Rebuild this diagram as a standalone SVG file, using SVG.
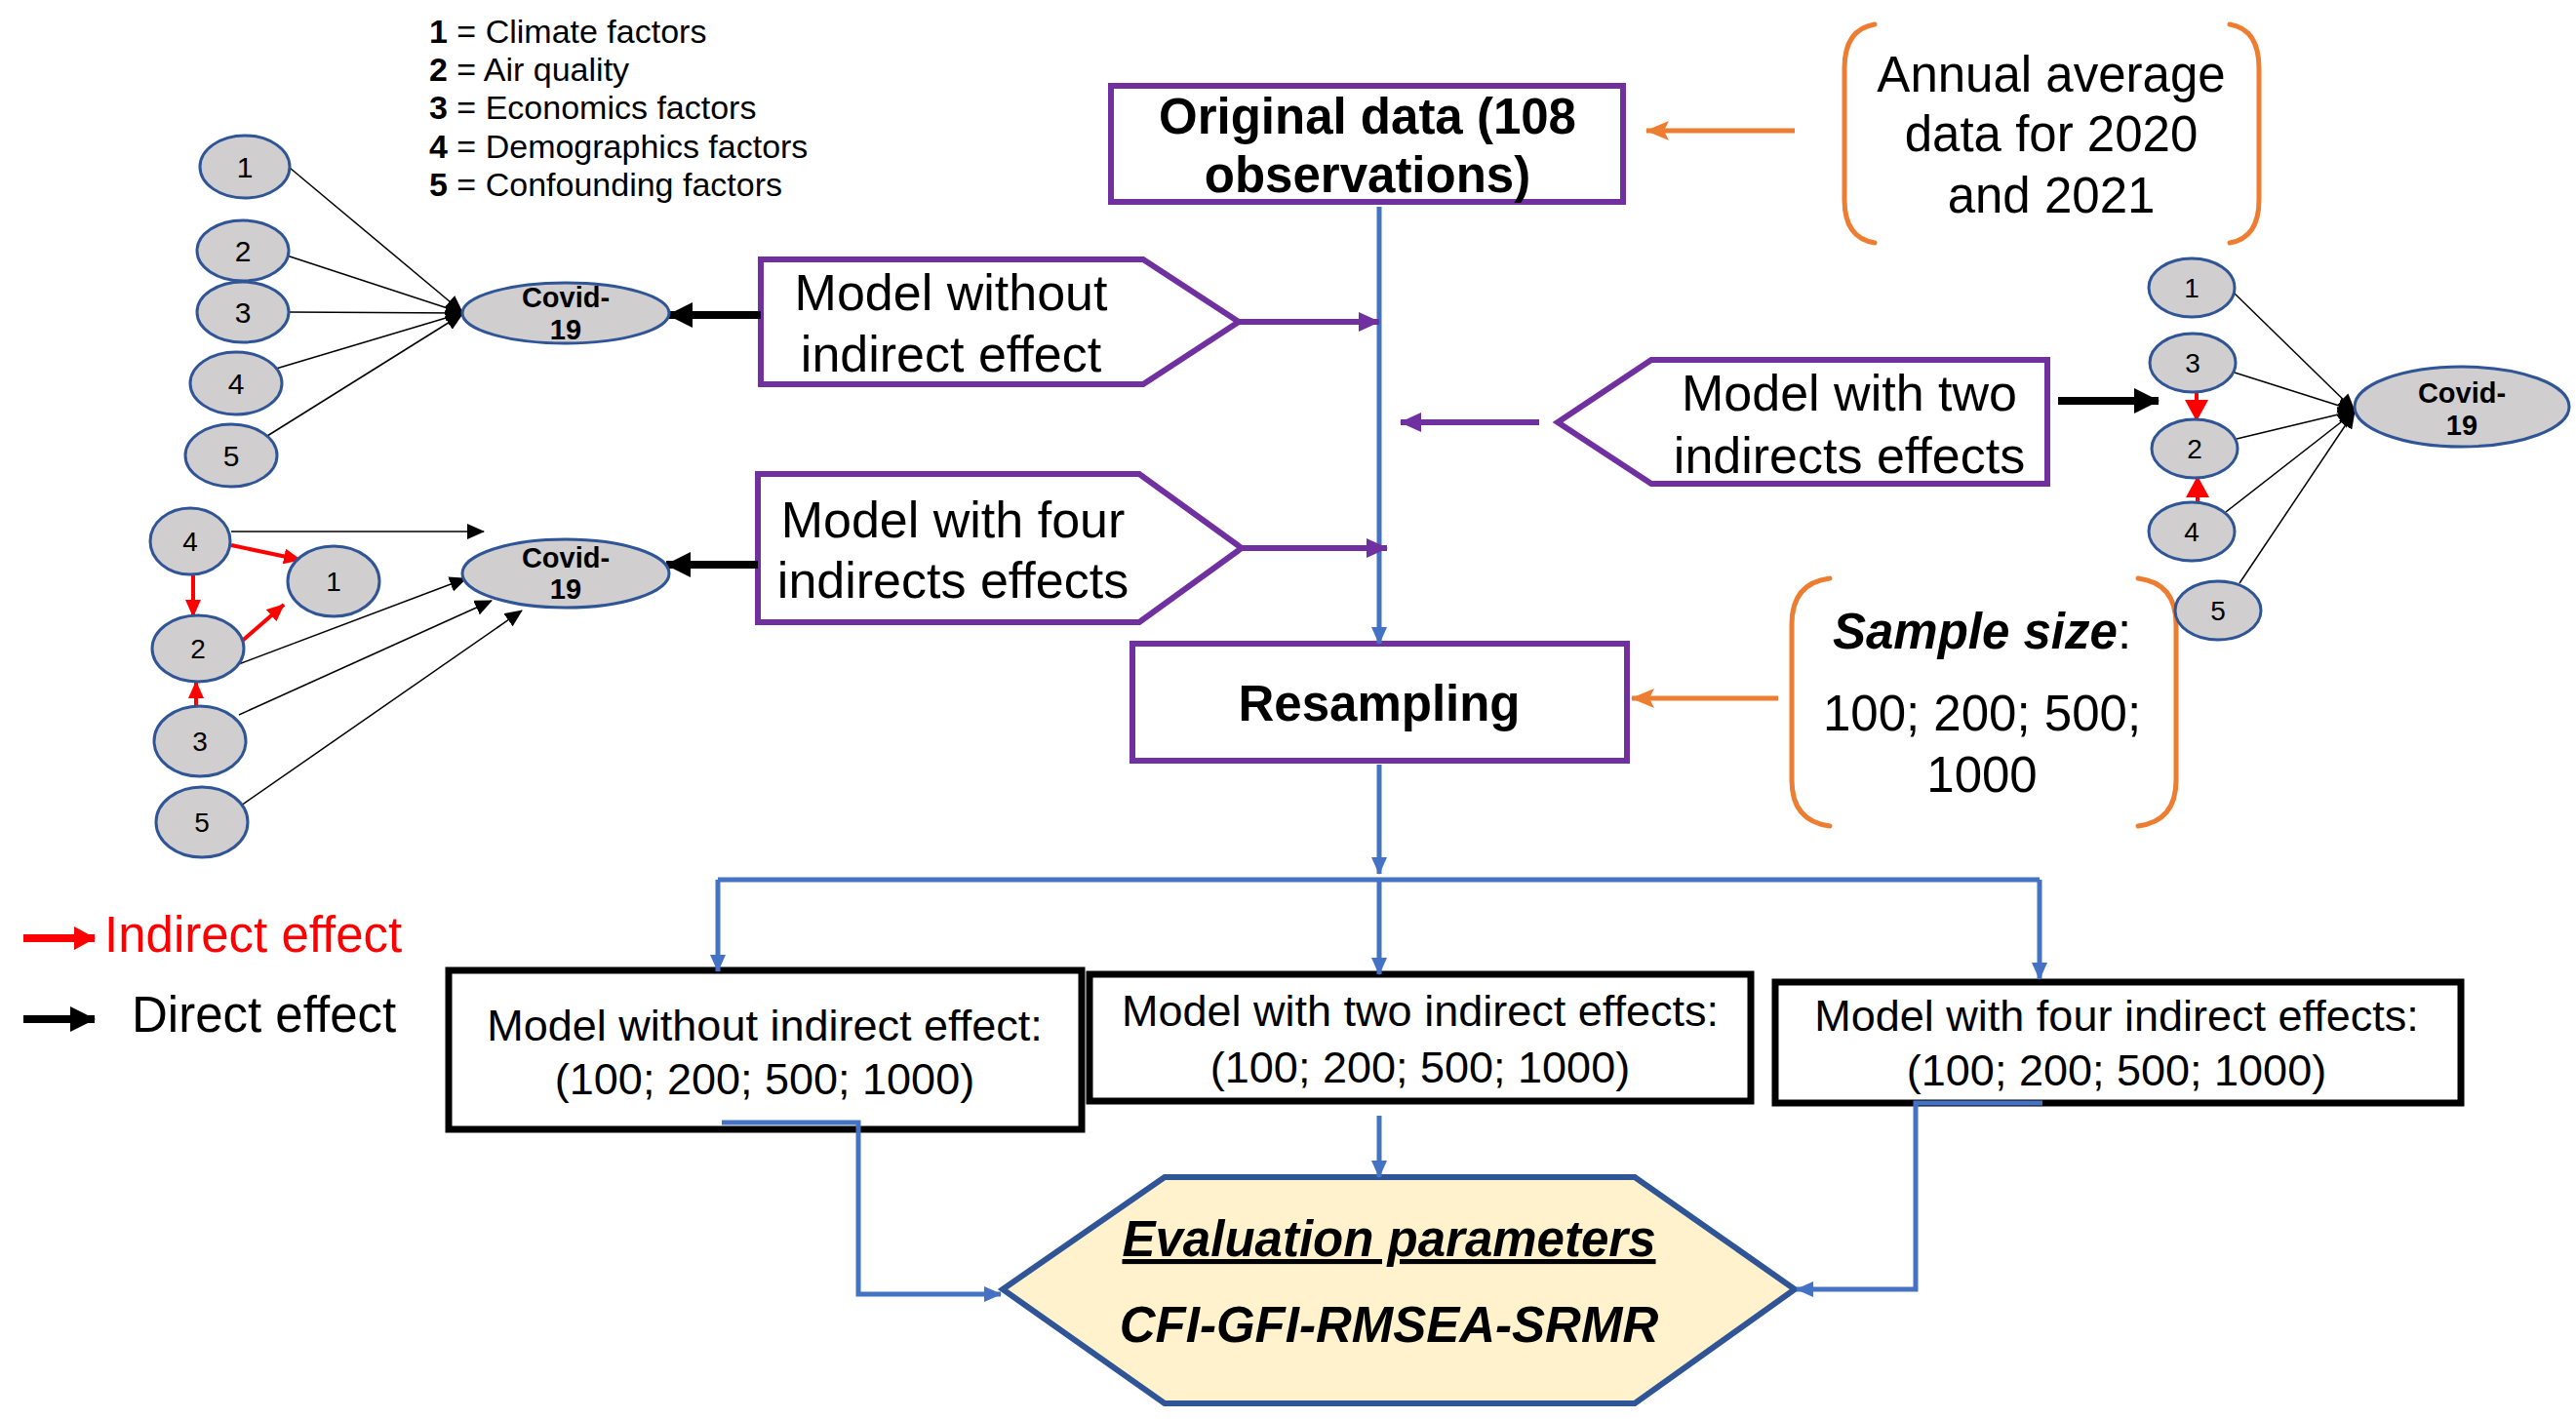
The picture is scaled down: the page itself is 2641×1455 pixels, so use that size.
<svg xmlns="http://www.w3.org/2000/svg" width="2641" height="1455" viewBox="0 0 2641 1455">
<style>
text{font-family:"Liberation Sans",Arial,sans-serif;fill:#000}
.t50{font-size:51px}
.p52{font-size:52px}
.b50{font-size:51px;font-weight:bold}
.leg{font-size:34px}
.num{font-size:30px}
.num2{font-size:28px}
.cov{font-size:29px;font-weight:bold}
.box43{font-size:45px}
.node{fill:#D0CECE;stroke:#2F5597;stroke-width:3}
.pur{fill:#fff;stroke:#7030A0;stroke-width:6}
.blk{fill:#fff;stroke:#000;stroke-width:7}
.brk{fill:none;stroke:#ED7D31;stroke-width:5;stroke-linecap:round}
.thin{stroke:#000;stroke-width:1.5;fill:none}
.red{stroke:#FF0000;stroke-width:4;fill:none}
.blue{stroke:#4472C4;stroke-width:5;fill:none}
.purl{stroke:#7030A0;stroke-width:6;fill:none}
.orl{stroke:#ED7D31;stroke-width:5;fill:none}
.thick{stroke:#000;stroke-width:8;fill:none}
</style>
<defs>
<marker id="mb" markerUnits="userSpaceOnUse" markerWidth="18" markerHeight="18" refX="17" refY="9" orient="auto"><path d="M0,1 L18,9 L0,17 z" fill="#4472C4"/></marker>
<marker id="mp" markerUnits="userSpaceOnUse" markerWidth="22" markerHeight="22" refX="21" refY="11" orient="auto"><path d="M0,1 L22,11 L0,21 z" fill="#7030A0"/></marker>
<marker id="mo" markerUnits="userSpaceOnUse" markerWidth="24" markerHeight="20" refX="23" refY="10" orient="auto"><path d="M0,0 L24,10 L0,20 L5,10 z" fill="#ED7D31"/></marker>
<marker id="mk" markerUnits="userSpaceOnUse" markerWidth="26" markerHeight="26" refX="25" refY="13" orient="auto"><path d="M0,0 L26,13 L0,26 z" fill="#000"/></marker>
<marker id="ms" markerUnits="userSpaceOnUse" markerWidth="18" markerHeight="16" refX="17" refY="8" orient="auto"><path d="M0,0 L18,8 L0,16 z" fill="#000"/></marker>
<marker id="mr" markerUnits="userSpaceOnUse" markerWidth="18" markerHeight="16" refX="17" refY="8" orient="auto"><path d="M0,0 L18,8 L0,16 z" fill="#FF0000"/></marker>
<marker id="mrb" markerUnits="userSpaceOnUse" markerWidth="22" markerHeight="24" refX="21" refY="12" orient="auto"><path d="M0,0 L22,12 L0,24 z" fill="#FF0000"/></marker>
<marker id="mrl" markerUnits="userSpaceOnUse" markerWidth="22" markerHeight="24" refX="21" refY="12" orient="auto"><path d="M0,0 L22,12 L0,24 z" fill="#FF0000"/></marker>
</defs>
<rect width="2641" height="1455" fill="#fff"/>

<g id="legend-factors">
<text class="leg" x="440" y="44"><tspan font-weight="bold">1</tspan> = Climate factors</text>
<text class="leg" x="440" y="83"><tspan font-weight="bold">2</tspan> = Air quality</text>
<text class="leg" x="440" y="122"><tspan font-weight="bold">3</tspan> = Economics factors</text>
<text class="leg" x="440" y="162"><tspan font-weight="bold">4</tspan> = Demographics factors</text>
<text class="leg" x="440" y="201"><tspan font-weight="bold">5</tspan> = Confounding factors</text>
</g>

<g id="node-original">
<rect class="pur" x="1139" y="88" width="525" height="119"/>
<text class="b50" x="1402" y="137" text-anchor="middle">Original data (108</text>
<text class="b50" x="1402" y="197" text-anchor="middle">observations)</text>
</g>

<g id="node-annual">
<path class="brk" d="M1922,25 Q1891,30 1891,70 L1891,205 Q1891,244 1922,249"/>
<path class="brk" d="M2286,25 Q2316,30 2316,70 L2316,205 Q2316,244 2286,249"/>
<text class="t50" x="2103" y="94" text-anchor="middle">Annual average</text>
<text class="t50" x="2103" y="155" text-anchor="middle">data for 2020</text>
<text class="t50" x="2103" y="218" text-anchor="middle">and 2021</text>
</g>

<g id="node-model-without">
<path class="pur" d="M780,266 L1172,266 L1270,330 L1172,394 L780,394 Z"/>
<text class="p52" x="975" y="318" text-anchor="middle">Model without</text>
<text class="p52" x="975" y="381" text-anchor="middle">indirect effect</text>
</g>

<g id="node-model-two">
<path class="pur" d="M1597,433 L1693,369 L2099,369 L2099,496 L1693,496 Z"/>
<text class="p52" x="1896" y="421" text-anchor="middle">Model with two</text>
<text class="p52" x="1896" y="485" text-anchor="middle">indirects effects</text>
</g>

<g id="node-model-four">
<path class="pur" d="M777,486 L1168,486 L1273,562 L1168,638 L777,638 Z"/>
<text class="p52" x="977" y="551" text-anchor="middle">Model with four</text>
<text class="p52" x="977" y="613" text-anchor="middle">indirects effects</text>
</g>

<g id="node-resampling">
<rect class="pur" x="1161" y="660" width="507" height="120"/>
<text class="b50" x="1414" y="739" text-anchor="middle" font-size="52">Resampling</text>
</g>

<g id="node-sample">
<path class="brk" d="M1876,593 Q1837,598 1837,640 L1837,800 Q1837,842 1876,847"/>
<path class="brk" d="M2192,593 Q2231,598 2231,640 L2231,800 Q2231,842 2192,847"/>
<text class="t50" x="2032" y="665" text-anchor="middle"><tspan font-weight="bold" font-style="italic">Sample size</tspan>:</text>
<text class="t50" x="2032" y="749" text-anchor="middle">100; 200; 500;</text>
<text class="t50" x="2032" y="812" text-anchor="middle">1000</text>
</g>

<g id="node-box-without">
<rect class="blk" x="460" y="995" width="649" height="163"/>
<text class="box43" x="784" y="1067" text-anchor="middle">Model  without  indirect  effect:</text>
<text class="box43" x="784" y="1122" text-anchor="middle">(100; 200; 500; 1000)</text>
</g>

<g id="node-box-two">
<rect class="blk" x="1117" y="999" width="678" height="130"/>
<text class="box43" x="1456" y="1052" text-anchor="middle">Model  with two indirect effects:</text>
<text class="box43" x="1456" y="1110" text-anchor="middle">(100; 200; 500; 1000)</text>
</g>

<g id="node-box-four">
<rect class="blk" x="1820" y="1007" width="703" height="124"/>
<text class="box43" x="2170" y="1057" text-anchor="middle">Model  with four indirect effects:</text>
<text class="box43" x="2170" y="1113" text-anchor="middle">(100; 200; 500; 1000)</text>
</g>

<g id="node-evaluation">
<path d="M1028,1322 L1194,1207 L1676,1207 L1840,1322 L1676,1439 L1194,1439 Z" fill="#FFF2CC" stroke="#2F5597" stroke-width="6"/>
<text class="b50" x="1424" y="1288" text-anchor="middle" font-style="italic" text-decoration="underline">Evaluation parameters</text>
<text class="b50" x="1424" y="1376" text-anchor="middle" font-style="italic">CFI-GFI-RMSEA-SRMR</text>
</g>

<g id="legend-effects">
<line x1="24" y1="962" x2="97" y2="962" stroke="#FF0000" stroke-width="8" marker-end="url(#mrl)"/>
<text class="t50" x="107" y="976" style="fill:#FF0000">Indirect effect</text>
<line x1="24" y1="1045" x2="97" y2="1045" stroke="#000" stroke-width="8" marker-end="url(#mk)"/>
<text class="t50" x="135" y="1058">Direct effect</text>
</g>

<g id="connectors">
<line class="blue" x1="1414" y1="212" x2="1414" y2="660" marker-end="url(#mb)"/>
<line class="orl" x1="1840" y1="134" x2="1688" y2="134" marker-end="url(#mo)"/>
<line class="purl" x1="1270" y1="330" x2="1414" y2="330" marker-end="url(#mp)"/>
<line class="purl" x1="1578" y1="433" x2="1436" y2="433" marker-end="url(#mp)"/>
<line class="purl" x1="1273" y1="562" x2="1422" y2="562" marker-end="url(#mp)"/>
<line class="orl" x1="1823" y1="716" x2="1673" y2="716" marker-end="url(#mo)"/>
<line class="blue" x1="1414" y1="784" x2="1414" y2="896" marker-end="url(#mb)"/>
<path class="blue" d="M736,902 L2091,902"/>
<line class="blue" x1="736" y1="902" x2="736" y2="996" marker-end="url(#mb)"/>
<line class="blue" x1="1414" y1="902" x2="1414" y2="999" marker-end="url(#mb)"/>
<line class="blue" x1="2091" y1="902" x2="2091" y2="1004" marker-end="url(#mb)"/>
<path class="blue" d="M740,1151 L880,1151 L880,1327 L1026,1327" marker-end="url(#mb)"/>
<line class="blue" x1="1414" y1="1144" x2="1414" y2="1207" marker-end="url(#mb)"/>
<path class="blue" d="M2094,1131 L1964,1131 L1964,1322 L1842,1322" marker-end="url(#mb)"/>
<line class="thick" x1="780" y1="323" x2="685" y2="323" marker-end="url(#mk)"/>
<line class="thick" x1="777" y1="579" x2="683" y2="579" marker-end="url(#mk)"/>
<line class="thick" x1="2110" y1="411" x2="2213" y2="411" marker-end="url(#mk)"/>
<line class="thin" x1="297" y1="172" x2="474" y2="320" marker-end="url(#ms)"/>
<line class="thin" x1="294" y1="262" x2="474" y2="321" marker-end="url(#ms)"/>
<line class="thin" x1="296" y1="320" x2="474" y2="321" marker-end="url(#ms)"/>
<line class="thin" x1="283" y1="378" x2="474" y2="321" marker-end="url(#ms)"/>
<line class="thin" x1="274" y1="447" x2="474" y2="322" marker-end="url(#ms)"/>
<line class="thin" x1="2290" y1="300" x2="2414" y2="421" marker-end="url(#ms)"/>
<line class="thin" x1="2291" y1="382" x2="2414" y2="421" marker-end="url(#ms)"/>
<line class="thin" x1="2293" y1="450" x2="2414" y2="421" marker-end="url(#ms)"/>
<line class="thin" x1="2282" y1="525" x2="2414" y2="422" marker-end="url(#ms)"/>
<line class="thin" x1="2296" y1="598" x2="2414" y2="422" marker-end="url(#ms)"/>
<line class="red" x1="2252" y1="402" x2="2252" y2="431" marker-end="url(#mrb)"/>
<line class="red" x1="2253" y1="516" x2="2253" y2="489" marker-end="url(#mrb)"/>
<line class="thin" x1="237" y1="545" x2="496" y2="545" stroke-width="2" marker-end="url(#ms)"/>
<line class="red" x1="237" y1="559" x2="308" y2="574" marker-end="url(#mr)"/>
<line class="red" x1="198" y1="589" x2="198" y2="632" marker-end="url(#mr)"/>
<line class="red" x1="245" y1="660" x2="291" y2="620" marker-end="url(#mr)"/>
<line class="red" x1="201" y1="738" x2="201" y2="699" marker-end="url(#mr)"/>
<line class="thin" x1="242" y1="682" x2="478" y2="593" marker-end="url(#ms)"/>
<line class="thin" x1="245" y1="733" x2="504" y2="616" marker-end="url(#ms)"/>
<line class="thin" x1="247" y1="826" x2="535" y2="626" marker-end="url(#ms)"/>
</g>

<g id="diagram-top-left">
<g id="tl-n1"><ellipse class="node" cx="251" cy="171" rx="46" ry="32"/><text class="num" x="251" y="182" text-anchor="middle">1</text></g>
<g id="tl-n2"><ellipse class="node" cx="249" cy="257" rx="47" ry="31"/><text class="num" x="249" y="268" text-anchor="middle">2</text></g>
<g id="tl-n3"><ellipse class="node" cx="249" cy="320" rx="47" ry="31"/><text class="num" x="249" y="331" text-anchor="middle">3</text></g>
<g id="tl-n4"><ellipse class="node" cx="242" cy="393" rx="47" ry="32"/><text class="num" x="242" y="404" text-anchor="middle">4</text></g>
<g id="tl-n5"><ellipse class="node" cx="237" cy="467" rx="47" ry="32"/><text class="num" x="237" y="478" text-anchor="middle">5</text></g>
<g id="tl-covid"><ellipse class="node" cx="580" cy="321" rx="106" ry="31"/><text class="cov" x="580" y="315" text-anchor="middle">Covid-</text><text class="cov" x="580" y="348" text-anchor="middle">19</text></g>
</g>

<g id="diagram-right">
<g id="r-n1"><ellipse class="node" cx="2247" cy="295" rx="44" ry="30"/><text class="num2" x="2247" y="305" text-anchor="middle">1</text></g>
<g id="r-n3"><ellipse class="node" cx="2248" cy="372" rx="44" ry="30"/><text class="num2" x="2248" y="382" text-anchor="middle">3</text></g>
<g id="r-n2"><ellipse class="node" cx="2250" cy="460" rx="44" ry="30"/><text class="num2" x="2250" y="470" text-anchor="middle">2</text></g>
<g id="r-n4"><ellipse class="node" cx="2247" cy="545" rx="44" ry="30"/><text class="num2" x="2247" y="555" text-anchor="middle">4</text></g>
<g id="r-n5"><ellipse class="node" cx="2274" cy="626" rx="44" ry="30"/><text class="num2" x="2274" y="636" text-anchor="middle">5</text></g>
<g id="r-covid"><ellipse class="node" cx="2524" cy="417" rx="110" ry="41"/><text class="cov" x="2524" y="413" text-anchor="middle">Covid-</text><text class="cov" x="2524" y="446" text-anchor="middle">19</text></g>
</g>

<g id="diagram-bottom-left">
<g id="bl-n4"><ellipse class="node" cx="195" cy="555" rx="41" ry="34"/><text class="num2" x="195" y="565" text-anchor="middle">4</text></g>
<g id="bl-n1"><ellipse class="node" cx="342" cy="596" rx="47" ry="36"/><text class="num2" x="342" y="606" text-anchor="middle">1</text></g>
<g id="bl-n2"><ellipse class="node" cx="203" cy="665" rx="47" ry="34"/><text class="num2" x="203" y="675" text-anchor="middle">2</text></g>
<g id="bl-n3"><ellipse class="node" cx="205" cy="760" rx="47" ry="36"/><text class="num2" x="205" y="770" text-anchor="middle">3</text></g>
<g id="bl-n5"><ellipse class="node" cx="207" cy="843" rx="47" ry="36"/><text class="num2" x="207" y="853" text-anchor="middle">5</text></g>
<g id="bl-covid"><ellipse class="node" cx="580" cy="588" rx="106" ry="35"/><text class="cov" x="580" y="582" text-anchor="middle">Covid-</text><text class="cov" x="580" y="614" text-anchor="middle">19</text></g>
</g>
</svg>
